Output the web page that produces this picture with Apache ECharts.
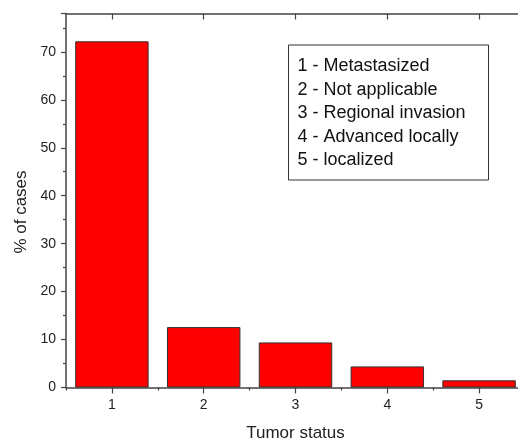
<!DOCTYPE html>
<html>
<head>
<meta charset="utf-8">
<script src="https://cdn.jsdelivr.net/npm/echarts@6/dist/echarts.min.js"></script>
<style>html,body{margin:0;padding:0;background:#fff}#c{width:518px;height:439px}</style>
</head>
<body>
<div id="c"></div>
<script>
var categories = ['1', '2', '3', '4', '5'];
var values = [72.2, 12.6, 9.4, 4.4, 1.5];
var legendLines = ['1 - Metastasized', '2 - Not applicable', '3 - Regional invasion', '4 - Advanced locally', '5 - localized'];
var yTicks = [0, 10, 20, 30, 40, 50, 60, 70];

var chart = echarts.init(document.getElementById('c'), null, {renderer: 'canvas'});
var font = 'Liberation Sans, Arial, sans-serif';
var axisColor = '#444';

var legendChildren = [{
  type: 'rect', shape: {x: 0, y: 0, width: 200, height: 135},
  style: {fill: '#fff', stroke: '#333', lineWidth: 1}
}];
legendLines.forEach(function (t, i) {
  legendChildren.push({
    type: 'text', x: 9, y: 21.5 + i * 23.4,
    style: {text: t, font: '18px ' + font, fill: '#111', textVerticalAlign: 'middle', textAlign: 'left'}
  });
});

chart.setOption({
  animation: false,
  grid: {left: 66, width: 459, top: 13.5, height: 374, containLabel: false, outerBoundsMode: 'none'},
  xAxis: [{
    type: 'category', data: categories, position: 'bottom',
    axisLine: {show: true, lineStyle: {color: axisColor, width: 1.5}},
    axisTick: {show: true, alignWithLabel: true, length: 6, lineStyle: {color: axisColor, width: 1.2}},
    axisLabel: {color: '#222', fontSize: 14, fontFamily: font, margin: 11},
    name: 'Tumor status', nameLocation: 'middle', nameGap: 37,
    nameTextStyle: {color: '#222', fontSize: 17, fontFamily: font},
    splitLine: {show: false}
  }, {
    type: 'category', data: categories, position: 'bottom',
    axisLine: {show: false},
    axisTick: {show: true, alignWithLabel: false, length: 3, lineStyle: {color: axisColor, width: 1.2}},
    axisLabel: {show: false}, splitLine: {show: false}
  }, {
    type: 'category', data: categories, position: 'top',
    axisLine: {show: true, lineStyle: {color: axisColor, width: 1.5}},
    axisTick: {show: true, inside: true, alignWithLabel: true, length: 6, lineStyle: {color: axisColor, width: 1.2}},
    axisLabel: {show: false}, splitLine: {show: false}
  }],
  yAxis: [{
    type: 'value', min: 0, max: 78, interval: 10,
    axisLine: {show: true, lineStyle: {color: axisColor, width: 1.5}},
    axisTick: {show: true, length: 5, lineStyle: {color: axisColor, width: 1.2}},
    minorTick: {show: true, splitNumber: 2, length: 3, lineStyle: {color: axisColor, width: 1.2}},
    axisLabel: {color: '#222', fontSize: 14, fontFamily: font, margin: 10, showMaxLabel: false,
      formatter: function (v) { return yTicks.indexOf(v) >= 0 ? String(v) : ''; }},
    splitLine: {show: false}
  }],
  series: [{
    type: 'bar', data: values, xAxisIndex: 0, yAxisIndex: 0, barWidth: '80%',
    itemStyle: {color: '#ff0000', borderColor: '#333', borderWidth: 1}
  }],
  graphic: [{
    type: 'text', x: 21, y: 212, rotation: Math.PI / 2,
    style: {text: '% of cases', font: '17px ' + font, fill: '#222', textAlign: 'center', textVerticalAlign: 'middle'}
  }, {
    type: 'group', x: 288.5, y: 45, children: legendChildren
  }]
});
</script>
</body>
</html>
